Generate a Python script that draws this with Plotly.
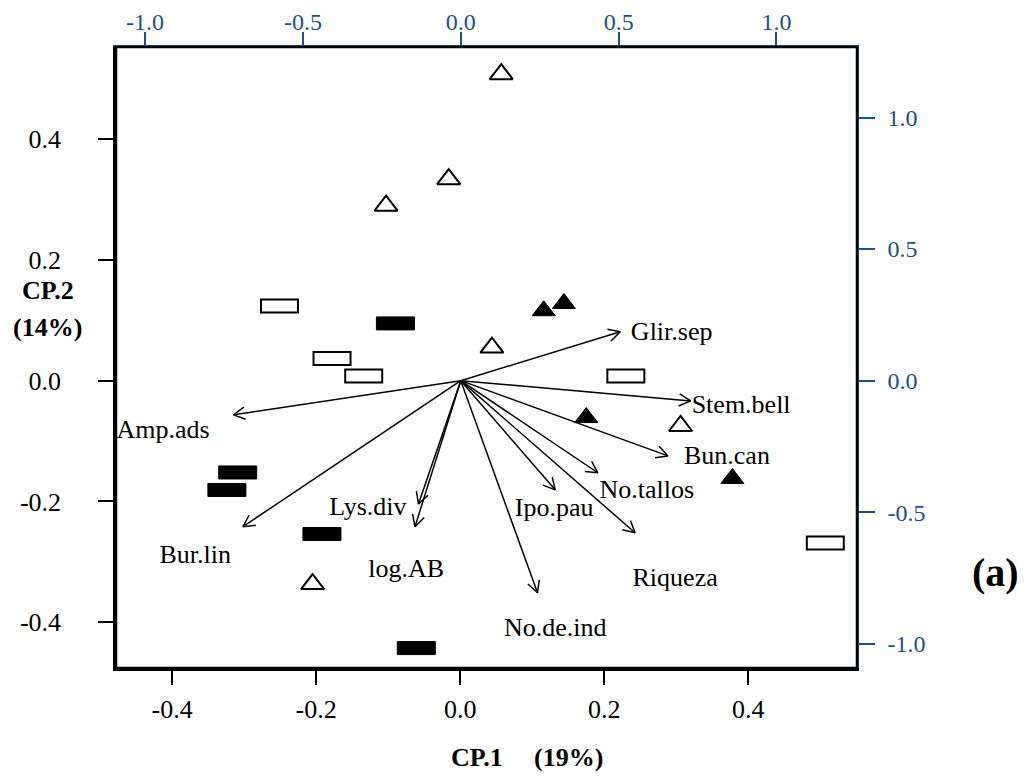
import math
import plotly.graph_objects as go

FONT = "Liberation Serif, Times New Roman, serif"
BLUE = "#1d4f8c"

# ---------------- data ----------------
x_tickvals = [-0.4, -0.2, 0.0, 0.2, 0.4]
x_ticktext = ["-0.4", "-0.2", "0.0", "0.2", "0.4"]
y_tickvals = [-0.4, -0.2, 0.0, 0.2, 0.4]
y_ticktext = ["-0.4", "-0.2", "0.0", "0.2", "0.4"]
top_tickvals = [-1.0, -0.5, 0.0, 0.5, 1.0]
top_ticktext = ["-1.0", "-0.5", "0.0", "0.5", "1.0"]
right_tickvals = [-1.0, -0.5, 0.0, 0.5, 1.0]
right_ticktext = ["-1.0", "-0.5", "0.0", "0.5", "1.0"]

variables = ["Glir.sep", "Stem.bell", "Bun.can", "No.tallos", "Ipo.pau", "Riqueza",
             "No.de.ind", "Lys.div", "log.AB", "Bur.lin", "Amp.ads"]
load_x = [0.505, 0.728, 0.656, 0.434, 0.299, 0.552, 0.243, -0.134, -0.145, -0.690, -0.720]
load_y = [0.186, -0.077, -0.286, -0.350, -0.415, -0.578, -0.806, -0.469, -0.555, -0.555, -0.130]
label_x = [0.668, 0.888, 0.843, 0.589, 0.296, 0.679, 0.299, -0.294, -0.173, -0.841, -0.943]
label_y = [0.181, -0.100, -0.291, -0.422, -0.489, -0.755, -0.947, -0.487, -0.722, -0.669, -0.194]

open_tri_x = [0.057, -0.016, -0.103, 0.044, 0.306, -0.205]
open_tri_y = [0.508, 0.334, 0.290, 0.055, -0.075, -0.337]
filled_tri_x = [0.116, 0.144, 0.175, 0.378]
filled_tri_y = [0.116, 0.128, -0.061, -0.162]
open_rect_x = [-0.251, -0.178, -0.134, 0.230, 0.507]
open_rect_y = [0.124, 0.037, 0.008, 0.008, -0.269]
filled_rect_x = [-0.090, -0.309, -0.324, -0.192, -0.061]
filled_rect_y = [0.095, -0.152, -0.181, -0.254, -0.443]

# ---------------- layout geometry ----------------
# the html body adds an 8px margin; the figure is sized to fit inside the window
PAGE_OFF = 8
W, H = 1023, 768
ML, MR, MT, MB = 108, 174, 39, 108
PW, PH = W - ML - MR, H - MT - MB
X_RANGE = [-0.478, 0.551]
Y_RANGE = [-0.476, 0.553]
X2_RANGE = [-1.092, 1.255]
Y2_RANGE = [-1.092, 1.268]

ppx = PW / (X2_RANGE[1] - X2_RANGE[0])
ppy = PH / (Y2_RANGE[1] - Y2_RANGE[0])


def px_to_paper(px, py):
    """page pixel position -> paper coordinates"""
    return ((px - PAGE_OFF - ML) / PW, (H - MB - (py - PAGE_OFF)) / PH)


fig = go.Figure()

# arrows (shafts + open V heads)
sx, sy = [], []
hx, hy = [], []
HEAD = 13.0
ANG = math.radians(28)
for tx, ty in zip(load_x, load_y):
    sx += [0, tx, None]
    sy += [0, ty, None]
    dx, dy = tx * ppx, ty * ppy
    n = math.hypot(dx, dy)
    ux, uy = dx / n, dy / n
    for s in (1, -1):
        c, si = math.cos(s * ANG), math.sin(s * ANG)
        rx = ux * c - uy * si
        ry = ux * si + uy * c
        hx += [tx - HEAD * rx / ppx, tx]
        hy += [ty - HEAD * ry / ppy, ty]
    hx += [None]
    hy += [None]

fig.add_trace(go.Scatter(x=sx, y=sy, mode="lines", xaxis="x2", yaxis="y2",
                         line=dict(color="black", width=1.5), hoverinfo="skip",
                         showlegend=False))
fig.add_trace(go.Scatter(x=hx, y=hy, mode="lines", xaxis="x2", yaxis="y2",
                         line=dict(color="black", width=1.5), hoverinfo="skip",
                         showlegend=False))
fig.add_trace(go.Scatter(x=label_x, y=label_y, mode="text", text=variables,
                         xaxis="x2", yaxis="y2", textposition="middle center",
                         textfont=dict(family=FONT, size=26, color="black"),
                         showlegend=False))

# site points
fig.add_trace(go.Scatter(x=open_tri_x, y=open_tri_y, mode="markers",
                         marker=dict(symbol="triangle-up-open", size=20,
                                     color="black", line=dict(width=2, color="black")),
                         showlegend=False))
fig.add_trace(go.Scatter(x=filled_tri_x, y=filled_tri_y, mode="markers",
                         marker=dict(symbol="triangle-up", size=20, color="black",
                                     line=dict(width=1, color="black")),
                         showlegend=False))

shapes = []
for x, y in zip(open_rect_x, open_rect_y):
    shapes.append(dict(type="rect", xref="x", yref="y", xsizemode="pixel", ysizemode="pixel",
                       xanchor=x, yanchor=y, x0=-18.5, x1=18.5, y0=-6.5, y1=6.5,
                       line=dict(color="black", width=2), fillcolor="rgba(0,0,0,0)"))
for x, y in zip(filled_rect_x, filled_rect_y):
    shapes.append(dict(type="rect", xref="x", yref="y", xsizemode="pixel", ysizemode="pixel",
                       xanchor=x, yanchor=y, x0=-19, x1=19, y0=-6.5, y1=6.5,
                       line=dict(color="black", width=1), fillcolor="black"))
# frame
shapes.append(dict(type="rect", xref="paper", yref="paper", x0=0, x1=1, y0=0, y1=1,
                   line=dict(color="black", width=2.5), fillcolor="rgba(0,0,0,0)", layer="above"))

tick_font = dict(family=FONT, size=26, color="black")
blue_font = dict(family=FONT, size=24, color=BLUE)


def note(text, px, py, size):
    x, y = px_to_paper(px, py)
    return dict(text=text, xref="paper", yref="paper", x=x, y=y,
                xanchor="center", yanchor="middle", showarrow=False,
                font=dict(family=FONT, size=size, color="black"))


fig.update_layout(
    width=W, height=H,
    margin=dict(l=ML, r=MR, t=MT, b=MB, pad=0, autoexpand=False),
    paper_bgcolor="white", plot_bgcolor="white",
    showlegend=False,
    shapes=shapes,
    xaxis=dict(range=X_RANGE, tickvals=x_tickvals, ticktext=x_ticktext, automargin=False,
               showgrid=False, zeroline=False, showline=True, linecolor="black", linewidth=2.5,
               ticks="outside", ticklen=14, tickwidth=2, tickcolor="black",
               tickfont=tick_font, ticklabelstandoff=2),
    yaxis=dict(range=Y_RANGE, tickvals=y_tickvals, ticktext=y_ticktext, automargin=False,
               showgrid=False, zeroline=False, showline=True, linecolor="black", linewidth=2.5,
               ticks="outside", ticklen=15, tickwidth=2, tickcolor="black",
               tickfont=tick_font, ticklabelstandoff=32),
    xaxis2=dict(range=X2_RANGE, tickvals=top_tickvals, ticktext=top_ticktext, automargin=False,
                overlaying="x", side="top", anchor="y2",
                showgrid=False, zeroline=False, showline=True, linecolor=BLUE, linewidth=1.5,
                ticks="outside", ticklen=13, tickwidth=2, tickcolor=BLUE,
                tickfont=blue_font, ticklabelstandoff=-7),
    yaxis2=dict(range=Y2_RANGE, tickvals=right_tickvals, ticktext=right_ticktext, automargin=False,
                overlaying="y", side="right", anchor="x2",
                showgrid=False, zeroline=False, showline=True, linecolor=BLUE, linewidth=1.5,
                ticks="outside", ticklen=16, tickwidth=2, tickcolor=BLUE,
                tickfont=blue_font, ticklabelstandoff=8),
    annotations=[
        note("<b>CP.1</b>", 477, 757, 26),
        note("<b>(19%)</b>", 568, 757, 26),
        note("<b>CP.2</b>", 48, 290, 26),
        note("<b>(14%)</b>", 47, 327, 26),
        note("<b>(a)</b>", 995, 572, 40),
    ],
)

fig.write_html("out.html")
